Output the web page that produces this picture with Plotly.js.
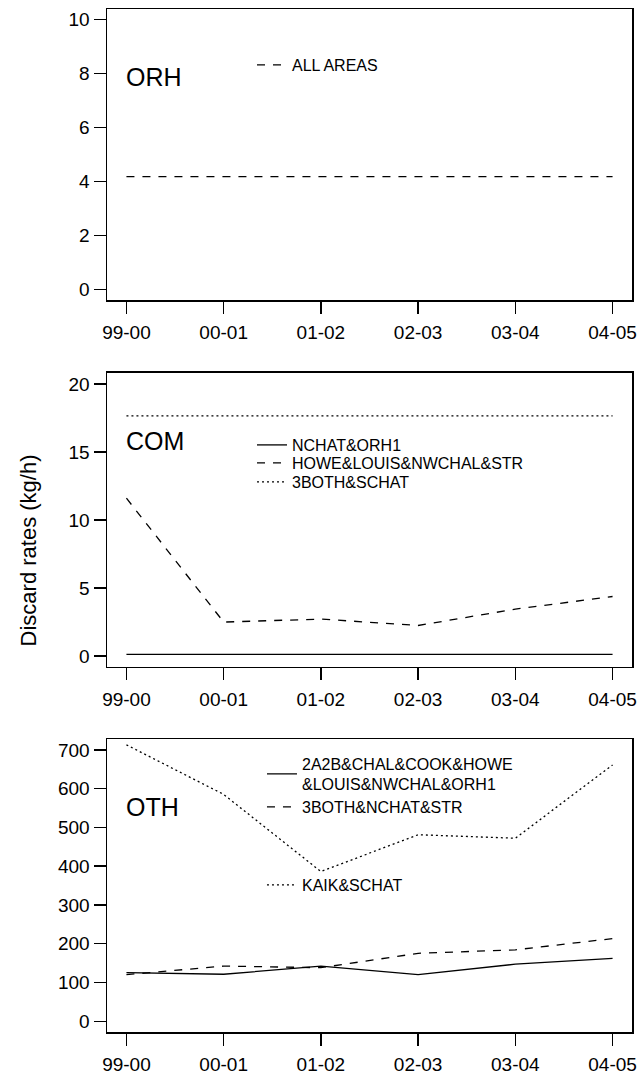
<!DOCTYPE html>
<html><head><meta charset="utf-8">
<script src="https://cdn.plot.ly/plotly-3.0.1.min.js"></script>
<style>html,body{margin:0;padding:0;background:#fff}</style>
</head><body>
<div id="chart" style="width:638px;height:1077px"></div>
<script>
// ---- data ----
const years = ['99-00', '00-01', '01-02', '02-03', '03-04', '04-05'];

const orhAllAreas = [4.18, 4.18, 4.18, 4.18, 4.18, 4.18];

const comNchatOrh1 = [0.12, 0.12, 0.12, 0.12, 0.12, 0.12];
const comHoweLouisNwchalStr = [11.6, 2.5, 2.72, 2.25, 3.45, 4.38];
const com3bothSchat = [17.65, 17.65, 17.65, 17.65, 17.65, 17.65];

const oth2a2bEtc = [125, 121, 142, 120, 147, 162];
const oth3bothNchatStr = [120, 142, 138, 175, 184, 213];
const othKaikSchat = [713, 585, 386, 481, 472, 661];

const panelNames = ['ORH', 'COM', 'OTH'];
const orhTicks = [0, 2, 4, 6, 8, 10];
const comTicks = [0, 5, 10, 15, 20];
const othTicks = [0, 100, 200, 300, 400, 500, 600, 700];

// ---- styling ----
const FONT = 'Liberation Sans, Arial, Helvetica, sans-serif';
const DASH = '8px,8px';
const DOT = '2px,3px';
const LW = 1.3;

function tr(y, name, dash, xa, ya, leg) {
  return {
    x: years, y: y, name: name, type: 'scatter', mode: 'lines',
    line: {color: '#000', width: LW, dash: dash},
    xaxis: xa, yaxis: ya, legend: leg, hoverinfo: 'skip'
  };
}

const traces = [
  tr(orhAllAreas, 'ALL AREAS', DASH, 'x', 'y', 'legend'),
  tr(comNchatOrh1, 'NCHAT&ORH1', 'solid', 'x2', 'y2', 'legend2'),
  tr(comHoweLouisNwchalStr, 'HOWE&LOUIS&NWCHAL&STR', DASH, 'x2', 'y2', 'legend3'),
  tr(com3bothSchat, '3BOTH&SCHAT', DOT, 'x2', 'y2', 'legend4'),
  tr(oth2a2bEtc, '2A2B&CHAL&COOK&HOWE<br>&LOUIS&NWCHAL&ORH1', 'solid', 'x3', 'y3', 'legend5'),
  tr(oth3bothNchatStr, '3BOTH&NCHAT&STR', DASH, 'x3', 'y3', 'legend6'),
  tr(othKaikSchat, 'KAIK&SCHAT', DOT, 'x3', 'y3', 'legend7')
];

function xax(anchor) {
  return {
    type: 'category', categoryorder: 'array', categoryarray: years,
    range: [-0.2, 5.2], anchor: anchor,
    showline: true, mirror: true, linecolor: '#000', linewidth: 1.5,
    ticks: 'outside', ticklen: 12, tickwidth: 1.3, tickcolor: '#000',
    ticklabelstandoff: 3,
    showgrid: false, zeroline: false,
    tickfont: {family: FONT, size: 19, color: '#000'}
  };
}
function yax(anchor, dom, range, tv) {
  return {
    domain: dom, range: range, anchor: anchor,
    tickmode: 'array', tickvals: tv, ticktext: tv.map(String),
    showline: true, mirror: true, linecolor: '#000', linewidth: 1.5,
    ticks: 'outside', ticklen: 12, tickwidth: 1.3, tickcolor: '#000',
    showgrid: false, zeroline: false,
    tickfont: {family: FONT, size: 19, color: '#000'}
  };
}

function leg(x, y) {
  return {
    x: x, y: y, xanchor: 'left', yanchor: 'middle',
    bgcolor: 'rgba(0,0,0,0)', borderwidth: 0,
    font: {family: FONT, size: 16, color: '#000'},
    itemwidth: 30, tracegroupgap: 0
  };
}

function panelLabel(text, xr, yr) {
  return {
    text: text, xref: xr + ' domain', yref: yr + ' domain',
    x: 0.033, y: 0.767, xanchor: 'left', yanchor: 'middle',
    showarrow: false, font: {family: FONT, size: 25, color: '#000'}
  };
}

const layout = {
  width: 638, height: 1077,
  margin: {l: 107, r: 6, t: 9, b: 45},
  paper_bgcolor: '#fff', plot_bgcolor: '#fff',
  showlegend: true,
  xaxis: xax('y'),
  yaxis: yax('x', [0.7155, 1], [-0.4, 10.4], orhTicks),
  xaxis2: xax('y2'),
  yaxis2: yax('x2', [0.3568, 0.6442], [-0.8, 20.8], comTicks),
  xaxis3: xax('y3'),
  yaxis3: yax('x3', [0, 0.2864], [-28, 728], othTicks),
  legend: leg(0.2762, 0.9453),
  legend2: leg(0.2762, 0.5738),
  legend3: leg(0.2762, 0.5562),
  legend4: leg(0.2762, 0.5376),
  legend5: leg(0.2952, 0.2522),
  legend6: leg(0.2952, 0.2199),
  legend7: leg(0.2952, 0.1437),
  annotations: [
    panelLabel(panelNames[0], 'x', 'y'),
    panelLabel(panelNames[1], 'x2', 'y2'),
    panelLabel(panelNames[2], 'x3', 'y3'),
    {
      text: 'Discard rates (kg/h)', xref: 'paper', yref: 'paper',
      x: -0.15, y: 0.471, xanchor: 'center', yanchor: 'middle',
      textangle: -90, showarrow: false,
      font: {family: FONT, size: 22, color: '#000'}
    }
  ]
};

Plotly.newPlot('chart', traces, layout, {displayModeBar: false, staticPlot: true});
</script>
</body></html>
